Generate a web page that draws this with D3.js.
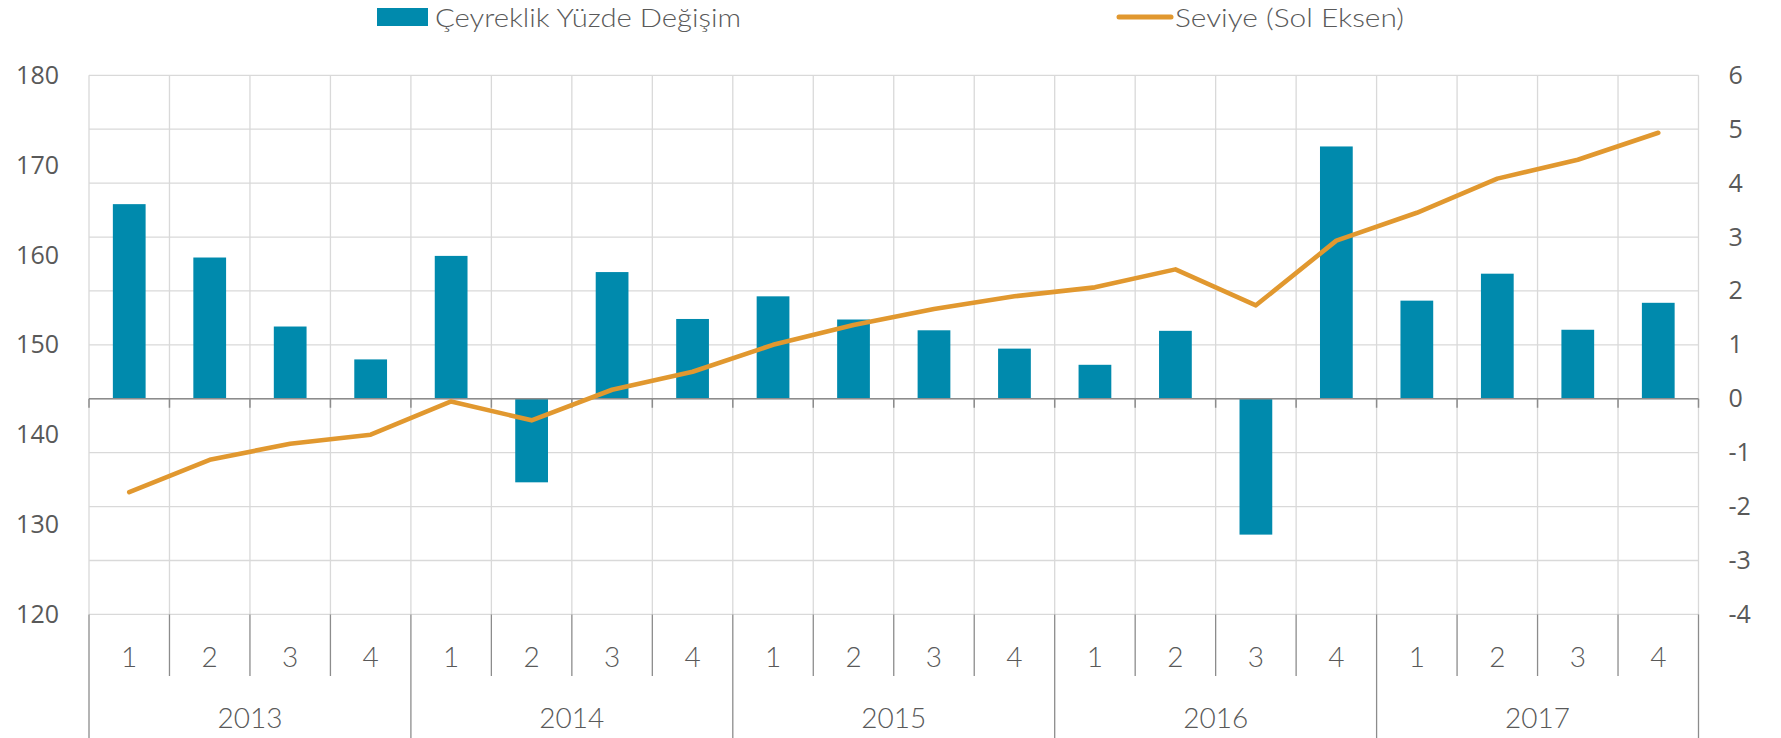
<!DOCTYPE html>
<html>
<head>
<meta charset="utf-8">
<script src="https://cdn.jsdelivr.net/npm/d3@7"></script>
<style>
  html, body { margin: 0; padding: 0; background: #ffffff; }
  svg { display: block; }
</style>
</head>
<body>
<svg id="chart" width="1781" height="738"></svg>
<script>
// ---- data ----
const years = ["2013", "2014", "2015", "2016", "2017"];
const quarters = ["1", "2", "3", "4"];
const quarterlyChange = [3.61, 2.62, 1.34, 0.73, 2.65, -1.55, 2.35, 1.48, 1.90, 1.47, 1.27, 0.93, 0.63, 1.26, -2.52, 4.68, 1.82, 2.32, 1.28, 1.78];
const level = [133.6, 137.2, 139.0, 140.0, 143.7, 141.6, 145.0, 147.0, 150.0, 152.2, 154.0, 155.4, 156.4, 158.4, 154.4, 161.6, 164.7, 168.5, 170.6, 173.6];
const leftTicks = [120, 130, 140, 150, 160, 170, 180];
const rightTicks = [-4, -3, -2, -1, 0, 1, 2, 3, 4, 5, 6];
const barLegend = "Çeyreklik Yüzde Değişim";
const lineLegend = "Seviye (Sol Eksen)";

// ---- layout / style ----
const plotL = 89, plotR = 1698.5, plotT = 75.3, plotB = 614.4;
const barColor = "#008AAD";
const lineColor = "#E1982F";
const gridColor = "#D9D9D9";
const axisColor = "#8C8C8C";
const textColor = "#595959";
const catFont = "'Lato', 'Open Sans', sans-serif";
const numFont = "'Open Sans', 'Noto Sans', sans-serif";

const cats = [];
years.forEach(y => quarters.forEach(q => cats.push({ year: y, q: q })));

const svg = d3.select("#chart");

const x = d3.scaleBand().domain(d3.range(cats.length)).range([plotL, plotR]).paddingInner(0).paddingOuter(0);
const bw = x.bandwidth();
const yR = d3.scaleLinear().domain([-4, 6]).range([plotB, plotT]);
const yL = d3.scaleLinear().domain([120, 180]).range([plotB, plotT]);
const bounds = d3.range(cats.length + 1).map(i => i < cats.length ? x(i) : x(cats.length - 1) + bw);

// horizontal grid
svg.append("g").selectAll("line").data(rightTicks).join("line")
  .attr("x1", plotL).attr("x2", plotR)
  .attr("y1", d => yR(d)).attr("y2", d => yR(d))
  .attr("stroke", gridColor).attr("stroke-width", 1.3);

// vertical grid
svg.append("g").selectAll("line").data(bounds).join("line")
  .attr("x1", d => d).attr("x2", d => d)
  .attr("y1", plotT).attr("y2", plotB)
  .attr("stroke", gridColor).attr("stroke-width", 1.3);

// bars
const barW = bw * 0.407;
svg.append("g").selectAll("rect").data(quarterlyChange).join("rect")
  .attr("x", (d, i) => x(i) + (bw - barW) / 2)
  .attr("width", barW)
  .attr("y", d => yR(Math.max(0, d)))
  .attr("height", d => Math.abs(yR(d) - yR(0)))
  .attr("fill", barColor);

// zero axis with ticks
const zy = yR(0);
svg.append("line").attr("x1", plotL).attr("x2", plotR).attr("y1", zy).attr("y2", zy)
  .attr("stroke", axisColor).attr("stroke-width", 1.5);
svg.append("g").selectAll("line").data(bounds).join("line")
  .attr("x1", d => d).attr("x2", d => d)
  .attr("y1", zy).attr("y2", zy + 9)
  .attr("stroke", axisColor).attr("stroke-width", 1.5);

// line series
const line = d3.line().x((d, i) => x(i) + bw / 2).y(d => yL(d));
svg.append("path").datum(level)
  .attr("d", line).attr("fill", "none")
  .attr("stroke", lineColor).attr("stroke-width", 4.6)
  .attr("stroke-linejoin", "round").attr("stroke-linecap", "round");

// left axis
const axL = svg.append("g").attr("transform", `translate(${plotL},0)`)
  .call(d3.axisLeft(yL).tickValues(leftTicks).tickSize(0).tickPadding(30).tickFormat(d => String(d)));
axL.select(".domain").remove();
axL.selectAll("text").attr("fill", textColor).style("font-family", numFont).style("font-size", "25px");

// right axis
const axR = svg.append("g").attr("transform", `translate(${plotR},0)`)
  .call(d3.axisRight(yR).tickValues(rightTicks).tickSize(0).tickPadding(30).tickFormat(d => String(d)));
axR.select(".domain").remove();
axR.selectAll("text").attr("fill", textColor).style("font-family", numFont).style("font-size", "25px");

// category separators below plot
svg.append("g").selectAll("line").data(bounds).join("line")
  .attr("x1", d => d).attr("x2", d => d)
  .attr("y1", plotB).attr("y2", (d, i) => i % 4 === 0 ? 738 : 676)
  .attr("stroke", axisColor).attr("stroke-width", 1.3);

// quarter labels
svg.append("g").selectAll("text").data(cats).join("text")
  .attr("x", (d, i) => x(i) + bw / 2)
  .attr("y", 667)
  .attr("text-anchor", "middle")
  .attr("fill", textColor)
  .style("font-family", catFont).style("font-weight", 300).style("font-size", "28px")
  .text(d => d.q);

// year labels
svg.append("g").selectAll("text").data(years).join("text")
  .attr("x", (d, i) => (bounds[i * 4] + bounds[i * 4 + 4]) / 2)
  .attr("y", 728)
  .attr("text-anchor", "middle")
  .attr("fill", textColor)
  .style("font-family", catFont).style("font-weight", 300).style("font-size", "28px")
  .text(d => d);

// legend
const lg = svg.append("g");
lg.append("rect").attr("x", 377).attr("y", 8).attr("width", 51).attr("height", 18).attr("fill", barColor);
lg.append("text").attr("x", 435).attr("y", 27)
  .attr("fill", textColor)
  .style("font-family", catFont).style("font-weight", 300).style("font-size", "26px")
  .attr("textLength", 306).attr("lengthAdjust", "spacingAndGlyphs")
  .text(barLegend);
lg.append("line").attr("x1", 1119).attr("x2", 1171).attr("y1", 17).attr("y2", 17)
  .attr("stroke", lineColor).attr("stroke-width", 5).attr("stroke-linecap", "round");
lg.append("text").attr("x", 1175).attr("y", 27)
  .attr("fill", textColor)
  .style("font-family", catFont).style("font-weight", 300).style("font-size", "26px")
  .attr("textLength", 229).attr("lengthAdjust", "spacingAndGlyphs")
  .text(lineLegend);
</script>
</body>
</html>
